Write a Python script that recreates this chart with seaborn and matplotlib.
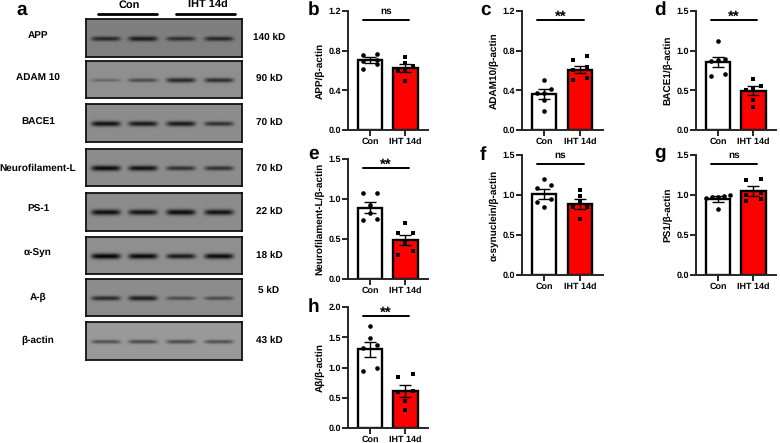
import numpy as np
import pandas as pd
import matplotlib
matplotlib.use("Agg")
import matplotlib.pyplot as plt
import seaborn as sns

W, H = 780, 443

groups = ["Con", "IHT 14d"]

# bar panels, values
b_con = [0.77, 0.755, 0.71, 0.70, 0.665, 0.62]
b_iht = [0.74, 0.68, 0.65, 0.61, 0.60, 0.495]
c_con = [0.507, 0.41, 0.376, 0.37, 0.30, 0.195]
c_iht = [0.743, 0.706, 0.632, 0.61, 0.528, 0.50]
d_con = [1.128, 0.89, 0.877, 0.87, 0.70, 0.677]
d_iht = [0.648, 0.555, 0.526, 0.505, 0.38, 0.29]
e_con = [1.08, 1.08, 0.925, 0.83, 0.75, 0.733]
e_iht = [0.70, 0.58, 0.58, 0.445, 0.35, 0.30]
f_con = [1.196, 1.125, 1.083, 0.954, 0.917, 0.846]
f_iht = [1.058, 0.99, 0.917, 0.846, 0.846, 0.696]
g_con = [1.0, 0.99, 0.98, 0.97, 0.96, 0.82]
g_iht = [1.205, 1.188, 1.02, 1.0, 0.95, 0.93]
h_con = [1.69, 1.485, 1.375, 1.32, 0.986, 0.947]
h_iht = [0.89, 0.848, 0.615, 0.587, 0.443, 0.294]

b_mean, b_sem = [0.705, 0.625], [0.03, 0.04]
c_mean, c_sem = [0.36, 0.61], [0.05, 0.04]
d_mean, d_sem = [0.857, 0.497], [0.067, 0.055]
e_mean, e_sem = [0.892, 0.49], [0.068, 0.065]
f_mean, f_sem = [1.0125, 0.8875], [0.06, 0.058]
g_mean, g_sem = [0.95, 1.05], [0.04, 0.06]
h_mean, h_sem = [1.30, 0.61], [0.12, 0.095]

ticks_12 = [0.0, 0.4, 0.8, 1.2]
ticks_15 = [0.0, 0.5, 1.0, 1.5]
ticks_20 = [0.0, 0.5, 1.0, 1.5, 2.0]

# blot panel
blot_names = ["APP", "ADAM 10", "BACE1", "Neurofilament-L", "PS-1", "\u03b1-Syn", "A-\u03b2", "\u03b2-actin"]
blot_sizes = ["140 kD", "90 kD", "70 kD", "70 kD", "22 kD", "18 kD", "5 kD", "43 kD"]
blot_bands = [
    [0.72, 0.82, 0.66, 0.72],
    [0.28, 0.48, 0.75, 0.70],
    [0.90, 0.85, 0.85, 0.68],
    [0.95, 0.90, 0.68, 0.68],
    [0.95, 0.90, 0.97, 0.92],
    [1.00, 0.97, 0.85, 0.95],
    [0.72, 0.82, 0.48, 0.48],
    [0.48, 0.52, 0.52, 0.48],
]
blot_gray = [0.50, 0.56, 0.55, 0.55, 0.55, 0.56, 0.55, 0.60]


def px_axes(fig, left, top, right, bottom):
    return fig.add_axes([left / W, 1 - bottom / H, (right - left) / W, (bottom - top) / H])


def fig_text(fig, x, y, s, **kw):
    kw.setdefault("ha", "center")
    kw.setdefault("va", "center")
    kw.setdefault("fontweight", "bold")
    kw.setdefault("fontsize", 7.3)
    fig.text(x / W, 1 - y / H, s, **kw)


def spread(values, ymax):
    # Prism style columns: close values share a row, centred on the bar
    vals = sorted(values)
    rows, cur = [], [vals[0]]
    for v in vals[1:]:
        if v - cur[0] > 0.045 * ymax:
            rows.append(cur)
            cur = [v]
        else:
            cur.append(v)
    rows.append(cur)
    out = []
    for row in rows:
        n = len(row)
        step = 0.4 if n == 2 else (0.2 if n == 3 else 0.17)
        for i, v in enumerate(row):
            out.append((step * (i - (n - 1) / 2), v))
    return out


def bar_panel(fig, box, letter, letter_pos, con, iht, mean, sem, ticks, ylabel, sig):
    left, top, right, bottom = box
    ax = px_axes(fig, left, top, right, bottom)
    df = pd.DataFrame({"group": groups, "mean": mean})
    sns.barplot(data=df, x="group", y="mean", hue="group", palette=["white", "#ff0000"],
                width=0.68, edgecolor="black", linewidth=1.7, errorbar=None, saturation=1,
                legend=False, ax=ax, zorder=2)
    ax.errorbar([0, 1], mean, yerr=sem, fmt="none", ecolor="black", elinewidth=1.0,
                capsize=4.5, capthick=1.0, zorder=4)
    for i, (vals, marker) in enumerate([(con, "o"), (iht, "s")]):
        pts = spread(vals, ticks[-1])
        sns.scatterplot(x=[i + p[0] for p in pts], y=[p[1] for p in pts], marker=marker,
                        color="black", s=11, linewidth=0, ax=ax, zorder=5, clip_on=False)
    ax.set_xlim(-0.62, 1.634)
    ax.set_ylim(0, ticks[-1])
    ax.set_yticks(ticks)
    ax.set_yticklabels([f"{t:.1f}" for t in ticks])
    ax.set_xticks([0, 1])
    ax.set_xticklabels(groups)
    ax.set_xlabel("")
    ax.set_ylabel(ylabel, fontweight="bold", fontsize=7, labelpad=3)
    ax.tick_params(width=1.2, length=4, labelsize=6.5, pad=1)
    for lab in ax.get_xticklabels() + ax.get_yticklabels():
        lab.set_fontweight("bold")
    sns.despine(ax=ax)
    for sp in ["left", "bottom"]:
        ax.spines[sp].set_linewidth(1.4)
    tr = ax.get_xaxis_transform()
    ax.plot([-0.2, 1.1], [0.925, 0.925], color="black", lw=1.4, transform=tr, clip_on=False)
    ax.text(0.45, 1.0 if sig == "ns" else 0.955, sig, transform=tr, ha="center", va="center",
            fontweight="bold", fontsize=7 if sig == "ns" else 11, clip_on=False)
    fig_text(fig, letter_pos[0], letter_pos[1], letter, fontsize=14, ha="left", va="baseline")


def blot(fig, top, bottom, bands, gray):
    ax = px_axes(fig, 86, top, 242, bottom)
    xs = np.arange(156) + 0.5
    ys = np.arange(bottom - top) + 0.5
    xx, yy = np.meshgrid(xs, ys)
    img = np.full(xx.shape, gray)
    for strength, cx in zip(bands, [20, 57, 95, 133]):
        edge = np.exp(-((xx - cx) / 14.5) ** 6)
        line = np.exp(-((yy - (bottom - top) * 0.52) / (1.2 + 1.6 * strength)) ** 2)
        img = img * (1 - 0.95 * strength * edge * line)
    ax.imshow(img, cmap="gray", vmin=0, vmax=1, aspect="auto", interpolation="bilinear")
    ax.set_xticks([])
    ax.set_yticks([])
    for sp in ax.spines.values():
        sp.set_visible(True)
        sp.set_color("#111111")
        sp.set_linewidth(1.3)


sns.set_theme(style="ticks")
plt.rcParams["font.family"] = ["Liberation Sans", "DejaVu Sans"]
plt.rcParams["text.hinting"] = "no_hinting"
plt.rcParams["text.hinting_factor"] = 1
plt.rcParams["axes.labelcolor"] = "black"
plt.rcParams["xtick.color"] = "black"
plt.rcParams["ytick.color"] = "black"
plt.rcParams["text.color"] = "black"

fig = plt.figure(figsize=(W / 100, H / 100), dpi=100)

blot_tops = [19, 61, 104, 149, 193, 237, 279, 322]
blot_bots = [57, 98, 142, 186, 231, 274, 316, 360]
name_y = [35, 78, 122, 168, 209, 253, 297, 340]
size_y = [37, 78, 122, 168, 211, 255, 290, 340]
for i in range(8):
    blot(fig, blot_tops[i], blot_bots[i], blot_bands[i], blot_gray[i])
    fig_text(fig, 38, name_y[i], blot_names[i])
    fig_text(fig, 269, size_y[i], blot_sizes[i])

fig_text(fig, 16, 15, "a", fontsize=14, ha="left", va="baseline")
fig_text(fig, 129, 5, "Con", fontsize=8.2)
fig_text(fig, 208, 5, "IHT 14d", fontsize=8.2)
fig.add_artist(plt.Line2D([98 / W, 157 / W], [1 - 14 / H] * 2, color="black", lw=2))
fig.add_artist(plt.Line2D([176 / W, 235 / W], [1 - 14 / H] * 2, color="black", lw=2))

bar_panel(fig, (348, 11, 428, 130), "b", (308, 15), b_con, b_iht, b_mean, b_sem, ticks_12, "APP/\u03b2-actin", "ns")
bar_panel(fig, (522, 11, 603, 130), "c", (480, 15), c_con, c_iht, c_mean, c_sem, ticks_12, "ADAM10/\u03b2-actin", "**")
bar_panel(fig, (696, 11, 776, 130), "d", (654, 15), d_con, d_iht, d_mean, d_sem, ticks_15, "BACE1/\u03b2-actin", "**")
bar_panel(fig, (348, 159, 428, 279), "e", (308, 159), e_con, e_iht, e_mean, e_sem, ticks_15, "Neurofilament-L/\u03b2-actin", "**")
bar_panel(fig, (522, 155, 603, 275), "f", (480, 160), f_con, f_iht, f_mean, f_sem, ticks_15, "\u03b1-synuclein/\u03b2-actin", "ns")
bar_panel(fig, (696, 155, 776, 275), "g", (654, 158), g_con, g_iht, g_mean, g_sem, ticks_15, "PS1/\u03b2-actin", "ns")
bar_panel(fig, (348, 307, 428, 428), "h", (308, 312), h_con, h_iht, h_mean, h_sem, ticks_20, "A\u03b2/\u03b2-actin", "**")

fig.savefig("out.png", dpi=100)
plt.close(fig)
